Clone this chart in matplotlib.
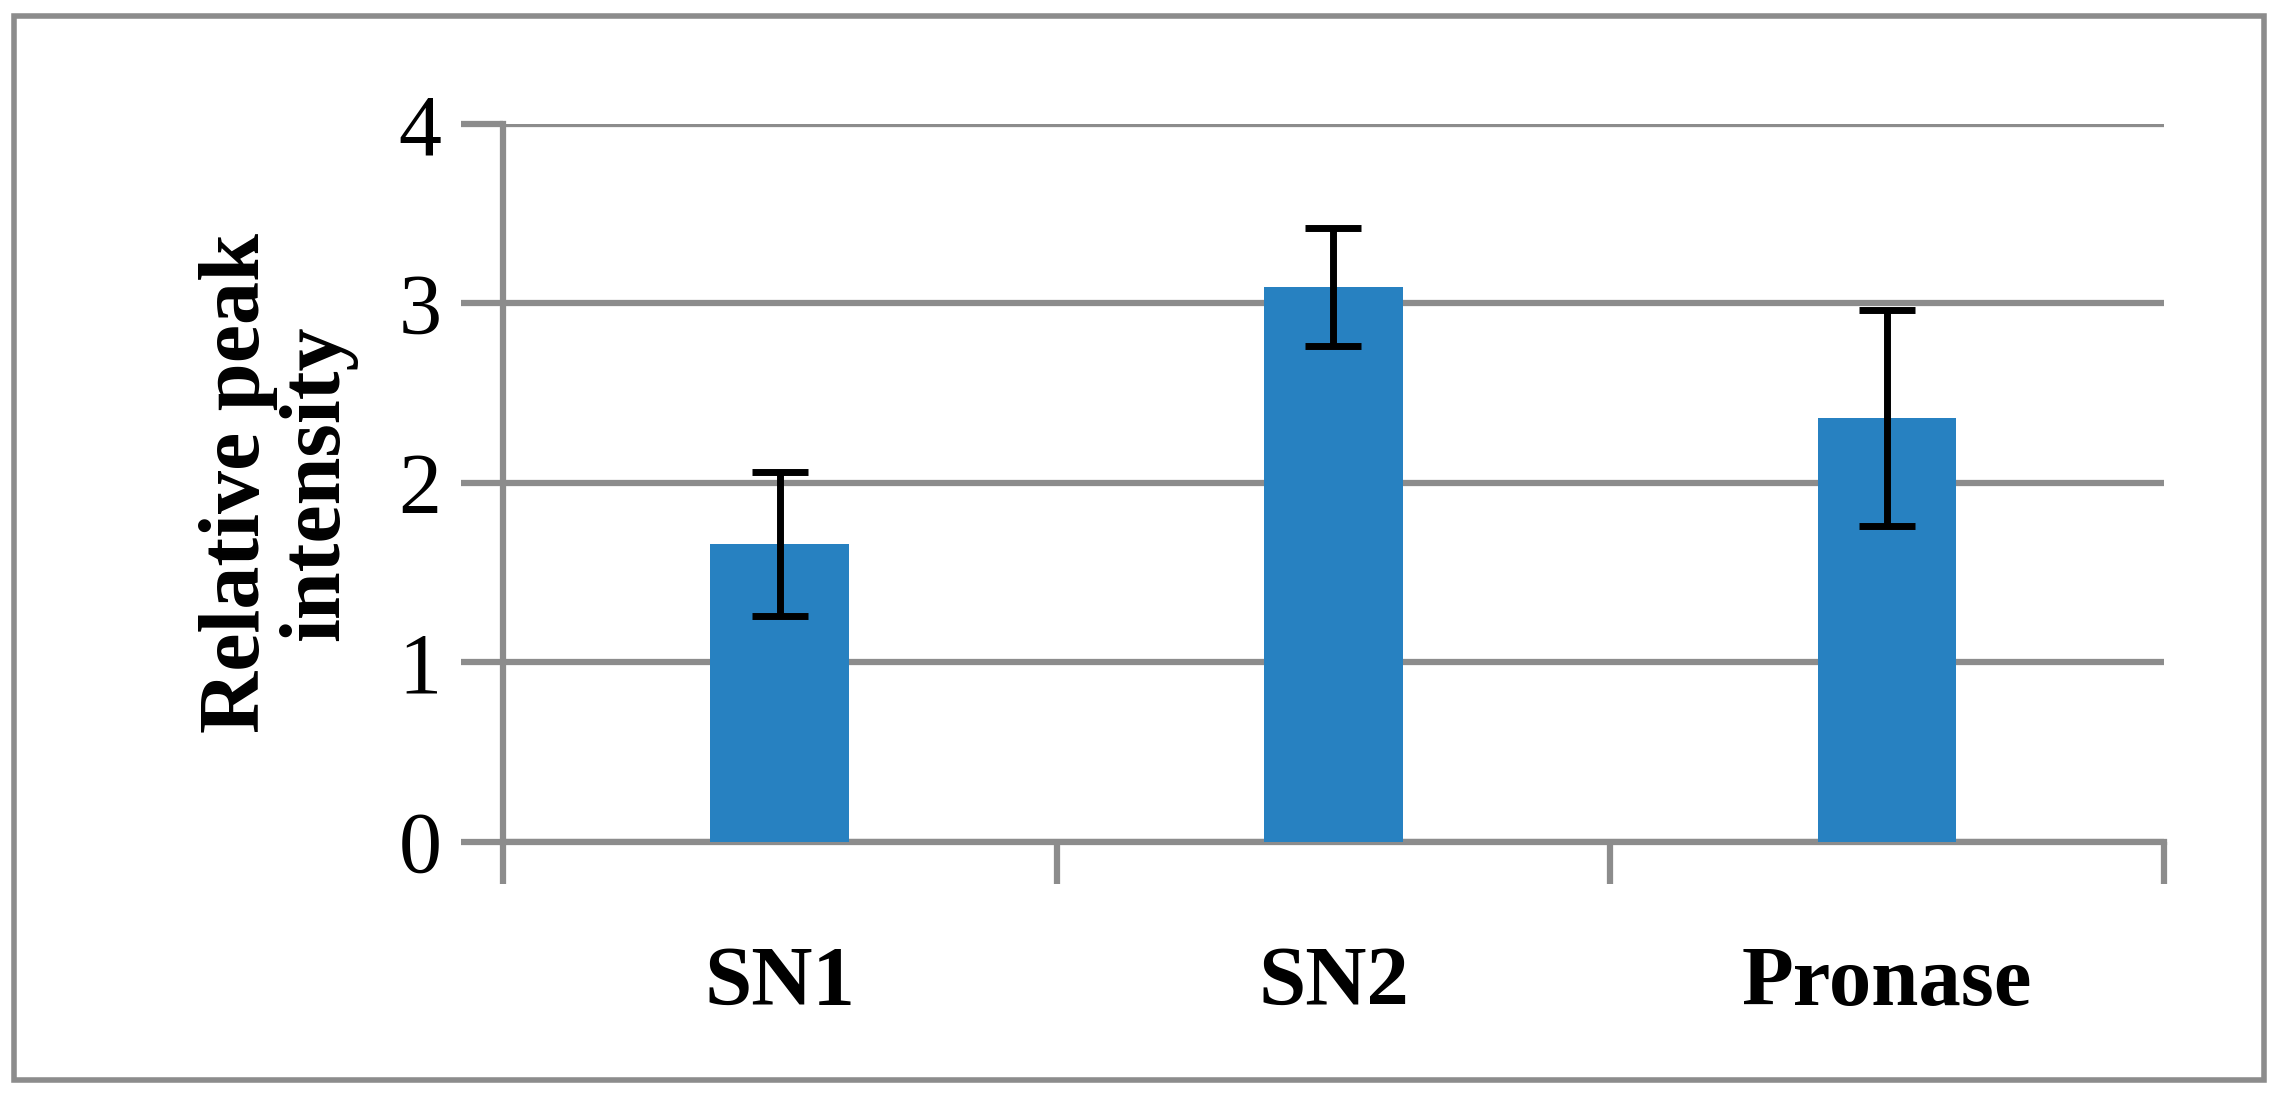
import matplotlib.pyplot as plt
from matplotlib.patches import Rectangle

categories = ['SN1', 'SN2', 'Pronase']
values = [1.66, 3.09, 2.36]
errors = [0.40, 0.33, 0.60]

plt.rcParams['font.family'] = ['Liberation Serif', 'DejaVu Serif']
gray = '#8c8c8c'

fig = plt.figure(figsize=(22.78, 10.96), dpi=100)
ax = fig.add_axes([0.2207, 0.232, 0.7293, 0.655])

x = range(len(categories))
ax.bar(x, values, width=0.25, color='#2781C1', zorder=3)
ax.errorbar(x, values, yerr=errors, fmt='none', ecolor='black',
            elinewidth=5, capsize=20, capthick=5, zorder=4)

ax.set_xlim(-0.5, 2.5)
ax.set_ylim(0, 4)
ax.set_yticks([0, 1, 2, 3, 4])
ax.yaxis.grid(True, color=gray, linewidth=4.5, zorder=0)
ax.set_xticks(list(x))
ax.set_xticklabels(categories, fontsize=61, fontweight='bold')
ax.set_xticks([-0.5, 0.5, 1.5, 2.5], minor=True)
ax.tick_params(axis='x', which='major', length=0, pad=75)
ax.tick_params(axis='x', which='minor', length=30, width=4.5, color=gray)
ax.tick_params(axis='y', labelsize=62, length=30, width=4.5, color=gray, pad=14)
for s in ['top', 'right']:
    ax.spines[s].set_visible(False)
for s in ['left', 'bottom']:
    ax.spines[s].set_color(gray)
    ax.spines[s].set_linewidth(4.5)
ax.set_ylabel('Relative peak\nintensity', fontsize=62, fontweight='bold',
              labelpad=30, linespacing=1.0)

fig.patches.append(Rectangle((0.006, 0.015), 0.988, 0.97, transform=fig.transFigure,
                             fill=False, edgecolor=gray, linewidth=4))
fig.savefig('out.png')
